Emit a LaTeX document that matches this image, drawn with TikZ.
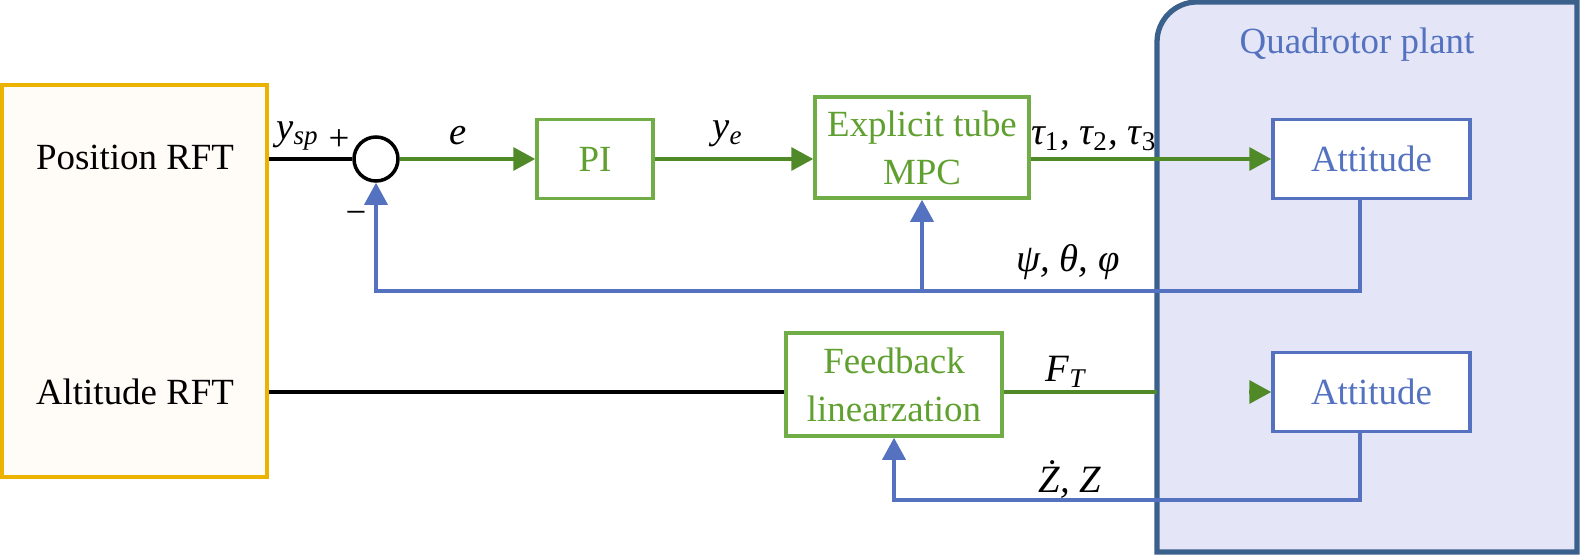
\documentclass[tikz,border=0pt]{standalone}
\usepackage{fontspec}
\setmainfont{Liberation Serif}
\usetikzlibrary{arrows.meta}
\definecolor{rftorange}{RGB}{236,178,0}
\definecolor{ctrlgreen}{RGB}{112,173,71}
\definecolor{txtgreen}{RGB}{96,160,48}
\definecolor{arrgreen}{RGB}{80,138,40}
\definecolor{fbblue}{RGB}{84,114,192}
\definecolor{plantedge}{RGB}{58,96,140}
\definecolor{plantfill}{RGB}{228,230,247}
\begin{document}
\begin{tikzpicture}[font=\fontsize{10.5}{13.6}\selectfont,
  blk/.style={draw=ctrlgreen,line width=1pt,fill=white,text=txtgreen,align=center,inner sep=0pt},
  att/.style={draw=fbblue,line width=1pt,fill=white,text=fbblue,minimum width=1.97cm,minimum height=0.79cm},
  sig/.style={arrgreen,line width=1pt,-{Triangle[length=2.2mm,width=2.3mm]}},
  fb/.style={fbblue,line width=1pt,-{Triangle[length=2.2mm,width=2.3mm]}},
  lab/.style={font=\fontsize{11}{13}\selectfont\itshape}]
 \useasboundingbox (0,0) rectangle (15.8,5.57);

 % plant
 \draw[plantedge,fill=plantfill,line width=1.5pt] (15.77,0.05) -- (11.57,0.05) -- (11.57,5.15)
   arc[start angle=180,end angle=90,radius=0.4] -- (15.77,5.55) -- cycle;
 \coordinate (pw) at (11.57,0.05);
 \node[text=fbblue] (qp) at (13.57,5.12) {Quadrotor plant};

 \node[draw=rftorange,line width=1.2pt,fill=orange!3,minimum width=2.65cm,minimum height=3.92cm] (rft) at (1.345,2.76) {};
 \node (pos) at (1.35,4.0) {Position RFT};
 \node (alt) at (1.35,1.65) {Altitude RFT};

 \node[draw,circle,line width=1pt,minimum size=0.44cm,inner sep=0pt,fill=white] (sum) at (3.76,3.98) {};
 \node[blk,minimum width=1.16cm,minimum height=0.79cm] (pi) at (5.95,3.98) {PI};
 \node[blk,minimum width=2.14cm,minimum height=1.01cm] (mpc) at (9.22,4.095) {Explicit tube\\MPC};
 \node[att] (att1) at (13.715,3.98) {Attitude};
 \node[blk,minimum width=2.16cm,minimum height=1.03cm] (fl) at (8.94,1.725) {Feedback\\linearzation};
 \node[att] (att2) at (13.715,1.65) {Attitude};

 \draw[line width=1pt] (rft.east |- sum) -- (sum.west);
 \draw[sig] (sum.east) -- (pi.west);
 \draw[sig] (pi.east) -- (pi.east -| mpc.west);
 \draw[sig] (mpc.east |- att1) -- (att1.west);

 \coordinate (fb1) at (13.60,2.66);
 \draw[fb] (att1.south -| fb1) -- (fb1) -| (sum.south);
 \draw[fb] (mpc.south |- fb1) -- (mpc.south);

 \draw[line width=1pt] (rft.east |- att2) -- (fl.west |- att2);
 \draw[arrgreen,line width=1pt] (fl.east |- att2) -- (pw |- att2);
 \draw[sig] ([xshift=-2.2mm]att2.west) -- (att2.west);
 \coordinate (fb2) at (13.60,0.57);
 \draw[fb] (att2.south -| fb2) -- (fb2) -| (fl.south);

 \node[lab] (ysp) at (2.98,4.21) {y\textsubscript{sp}};
 \node (plus) at (3.39,4.17) {+};
 \node (minus) at (3.56,3.39) {−};
 \node[lab] (e) at (4.58,4.21) {e};
 \node[lab] (ye) at (7.28,4.23) {y\textsubscript{e}};
 \node[lab] (tau) at (10.94,4.18) {τ\textsubscript{\upshape 1}, τ\textsubscript{\upshape 2}, τ\textsubscript{\upshape 3}};
 \node[lab] (ang) at (10.68,2.95) {ψ, θ, φ};
 \node[lab] (ft) at (10.66,1.85) {F\textsubscript{T}};
 \node[lab] (zz) at (10.70,0.77) {Ż, Z};
\end{tikzpicture}
\end{document}
